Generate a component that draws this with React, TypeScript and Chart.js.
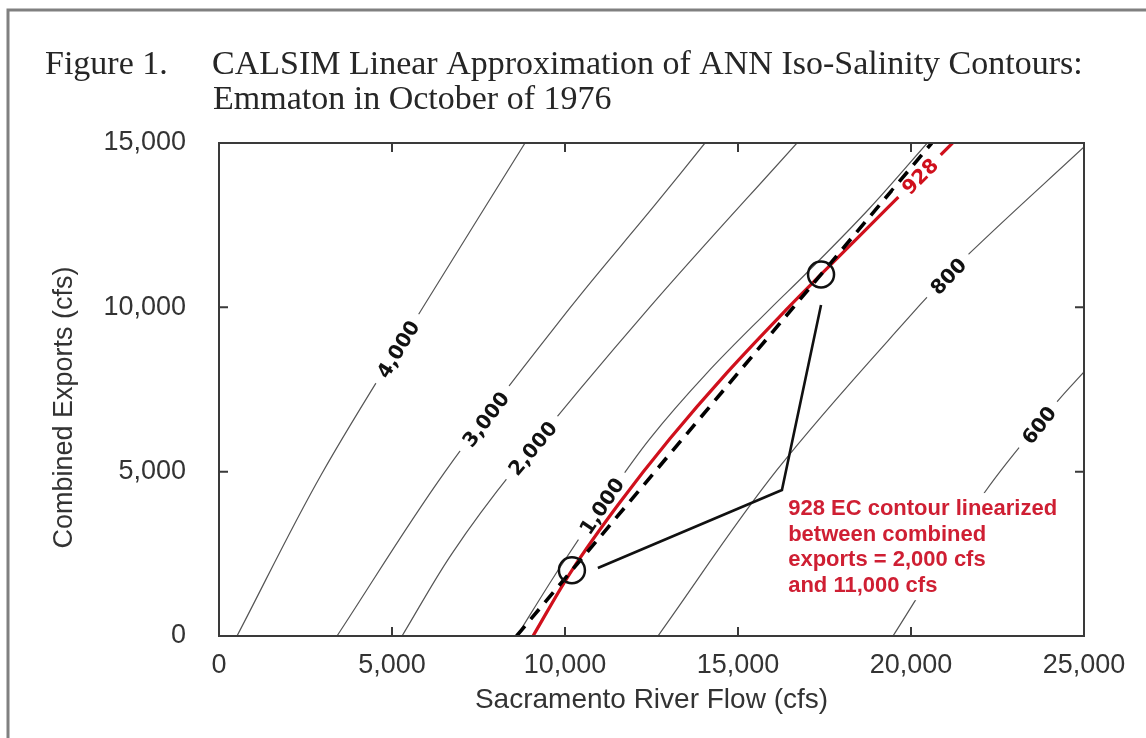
import React, { useEffect, useRef } from 'react';
import { Chart, registerables } from 'chart.js';

Chart.register(...registerables);

const SANS = '"Liberation Sans", Arial, Helvetica, sans-serif';
const LABEL_SANS = '"DejaVu Sans", Verdana, sans-serif';
const SERIF = '"Liberation Serif", "Times New Roman", serif';

// Axis ticks
const X_TICKS = [0, 5000, 10000, 15000, 20000, 25000];
const Y_TICKS = [0, 5000, 10000, 15000];

// Iso-salinity contours (EC): x = Sacramento River Flow (cfs), y = Combined Exports (cfs)
const C4000_X = [520, 2950, 5900, 8845];
const C4000_Y = [0, 4900, 10010, 15000];
const C3000_X = [3410, 6500, 10150, 12600, 14045];
const C3000_Y = [0, 4950, 9990, 13115, 15000];
const C2000_X = [5290, 6728, 8520, 12456, 16704];
const C2000_Y = [0, 2500, 5051, 10011, 15000];
const C1000_X = [8610, 9800, 11080, 12450, 14100, 15970, 16940, 18790, 20470];
const C1000_Y = [0, 2000, 4000, 6000, 8000, 10000, 11000, 13000, 15000];
const C928_X = [9075, 10200, 11540, 13030, 14670, 16460, 17400, 19300, 21200];
const C928_Y = [0, 2000, 4000, 6000, 8000, 10000, 11000, 13000, 15000];
const C800_X = [12687, 16126, 20259, 21704, 25000];
const C800_Y = [0, 5051, 10072, 11655, 14880];
const C600_X = [19479, 22137, 24218, 25000];
const C600_Y = [0, 4382, 7121, 8034];

// Linearized 928 EC contour (dashed) and its anchor points
const LINEAR_X = [8600, 20600];
const LINEAR_Y = [0, 15000];
const ANCHOR_X = [10200, 17400];
const ANCHOR_Y = [2000, 11000];

// Callout leader line
const LEADER_X = [10950, 16270, 17400];
const LEADER_Y = [2070, 4440, 10070];

// Contour labels and the export level (y) where each sits on its contour
const CONTOUR_LABELS = ['4,000', '3,000', '2,000', '1,000', '928', '800', '600'];
const LABEL_AT_Y = [8733, 6603, 5721, 3956, 13998, 10955, 6421];

const NOTE_LINES = [
  '928 EC contour linearized',
  'between combined',
  'exports = 2,000 cfs',
  'and 11,000 cfs',
];
const NOTE_AT = { x: 16450, y: 3680 };

const TITLE_FIG = 'Figure 1.';
const TITLE_L1 = 'CALSIM Linear Approximation of ANN Iso-Salinity Contours:';
const TITLE_L2 = 'Emmaton in October of 1976';
const X_TITLE = 'Sacramento River Flow (cfs)';
const Y_TITLE = 'Combined Exports (cfs)';

const RED = '#d0101c';
const NOTE_RED = '#cf1f33';
const GRAY = '#555555';
const TEXT = '#333333';

const fmt = (v: number) => Number(v).toLocaleString('en-US');
const xy = (xs: number[], ys: number[]) => xs.map((x, i) => ({ x, y: ys[i] }));

export default function App() {
  const ref = useRef<HTMLCanvasElement>(null);

  useEffect(() => {
    const canvas = ref.current;
    if (!canvas) return;

    const contours = [
      { xs: C4000_X, ys: C4000_Y, label: CONTOUR_LABELS[0], at: LABEL_AT_Y[0], red: false },
      { xs: C3000_X, ys: C3000_Y, label: CONTOUR_LABELS[1], at: LABEL_AT_Y[1], red: false },
      { xs: C2000_X, ys: C2000_Y, label: CONTOUR_LABELS[2], at: LABEL_AT_Y[2], red: false },
      { xs: C1000_X, ys: C1000_Y, label: CONTOUR_LABELS[3], at: LABEL_AT_Y[3], red: false },
      { xs: C928_X, ys: C928_Y, label: CONTOUR_LABELS[4], at: LABEL_AT_Y[4], red: true },
      { xs: C800_X, ys: C800_Y, label: CONTOUR_LABELS[5], at: LABEL_AT_Y[5], red: false },
      { xs: C600_X, ys: C600_Y, label: CONTOUR_LABELS[6], at: LABEL_AT_Y[6], red: false },
    ];

    const grayContours = contours
      .filter((c) => !c.red)
      .map((c) => ({
        data: xy(c.xs, c.ys),
        showLine: true,
        borderColor: GRAY,
        borderWidth: 1.2,
        pointRadius: 0,
        tension: 0.35,
      }));

    const overlay = {
      id: 'overlay',
      afterDatasetsDraw(chart: any) {
        const { ctx, chartArea: a, scales } = chart;
        const sx = scales.x;
        const sy = scales.y;
        ctx.save();

        // plot frame
        ctx.strokeStyle = '#3a3a3a';
        ctx.lineWidth = 2;
        ctx.strokeRect(a.left, a.top, a.right - a.left, a.bottom - a.top);

        // inward tick marks on all four sides
        const TL = 9;
        X_TICKS.forEach((v) => {
          const p = sx.getPixelForValue(v);
          if (p <= a.left + 1 || p >= a.right - 1) return;
          ctx.beginPath();
          ctx.moveTo(p, a.bottom);
          ctx.lineTo(p, a.bottom - TL);
          ctx.moveTo(p, a.top);
          ctx.lineTo(p, a.top + TL);
          ctx.stroke();
        });
        Y_TICKS.forEach((v) => {
          const p = sy.getPixelForValue(v);
          if (p <= a.top + 1 || p >= a.bottom - 1) return;
          ctx.beginPath();
          ctx.moveTo(a.left, p);
          ctx.lineTo(a.left + TL, p);
          ctx.moveTo(a.right, p);
          ctx.lineTo(a.right - TL, p);
          ctx.stroke();
        });

        // contour labels (inline, with a white gap in the line)
        ctx.font = 'bold 20px ' + LABEL_SANS;
        contours.forEach((c) => {
          const ly = c.at;
          let k = 0;
          for (k = 0; k < c.ys.length - 2; k++) if (ly <= c.ys[k + 1]) break;
          const t = (ly - c.ys[k]) / (c.ys[k + 1] - c.ys[k]);
          const lx = c.xs[k] + t * (c.xs[k + 1] - c.xs[k]);
          const cx = sx.getPixelForValue(lx);
          const cy = sy.getPixelForValue(ly);
          const ang = Math.atan2(
            sy.getPixelForValue(c.ys[k + 1]) - sy.getPixelForValue(c.ys[k]),
            sx.getPixelForValue(c.xs[k + 1]) - sx.getPixelForValue(c.xs[k])
          );
          const w = ctx.measureText(c.label).width;
          ctx.save();
          ctx.translate(cx, cy);
          ctx.rotate(ang);
          ctx.fillStyle = '#ffffff';
          ctx.fillRect(-w / 2 - 9, -8, w + 18, 16);
          ctx.fillStyle = c.red ? RED : '#111111';
          ctx.textAlign = 'center';
          ctx.textBaseline = 'alphabetic';
          ctx.fillText(c.label, 0, 7.3);
          ctx.restore();
        });

        // callout note
        ctx.font = 'bold 22px ' + SANS;
        const nx = sx.getPixelForValue(NOTE_AT.x);
        const ny = sy.getPixelForValue(NOTE_AT.y);
        const LH = 25.7;
        const maxW = Math.max(...NOTE_LINES.map((l) => ctx.measureText(l).width));
        ctx.fillStyle = '#ffffff';
        ctx.fillRect(nx - 3, ny - 22, maxW + 6, LH * (NOTE_LINES.length - 1) + 30);
        ctx.fillStyle = NOTE_RED;
        ctx.textAlign = 'left';
        ctx.textBaseline = 'alphabetic';
        NOTE_LINES.forEach((l, i) => ctx.fillText(l, nx, ny + i * LH));

        ctx.restore();
      },
      afterDraw(chart: any) {
        const { ctx, chartArea: a } = chart;
        ctx.save();
        // outer figure border
        ctx.strokeStyle = '#808080';
        ctx.lineWidth = 3;
        ctx.beginPath();
        ctx.moveTo(8, 738);
        ctx.lineTo(8, 10);
        ctx.lineTo(1146, 10);
        ctx.stroke();
        // title
        ctx.fillStyle = '#262626';
        ctx.font = '34px ' + SERIF;
        ctx.textAlign = 'left';
        ctx.textBaseline = 'alphabetic';
        ctx.fillText(TITLE_FIG, 45, 74);
        ctx.fillText(TITLE_L1, 212, 74);
        ctx.fillText(TITLE_L2, 213, 109);
        // y axis title (rotated)
        ctx.font = '27px ' + SANS;
        ctx.fillStyle = TEXT;
        ctx.translate(65, (a.top + a.bottom) / 2 + 18);
        ctx.rotate(-Math.PI / 2);
        ctx.textAlign = 'center';
        ctx.textBaseline = 'middle';
        ctx.fillText(Y_TITLE, 0, 0);
        ctx.restore();
      },
    };

    const chart = new Chart(canvas, {
      type: 'scatter',
      data: {
        datasets: [
          {
            data: xy(ANCHOR_X, ANCHOR_Y),
            showLine: false,
            pointRadius: 13,
            pointBorderWidth: 2.5,
            pointBorderColor: '#111111',
            pointBackgroundColor: 'rgba(0,0,0,0)',
            pointStyle: 'circle',
          },
          {
            data: xy(LEADER_X, LEADER_Y),
            showLine: true,
            borderColor: '#111111',
            borderWidth: 2.6,
            pointRadius: 0,
          },
          {
            data: xy(LINEAR_X, LINEAR_Y),
            showLine: true,
            borderColor: '#000000',
            borderWidth: 3.6,
            borderDash: [13, 9],
            pointRadius: 0,
          },
          {
            data: xy(C928_X, C928_Y),
            showLine: true,
            borderColor: RED,
            borderWidth: 3.2,
            pointRadius: 0,
            tension: 0.35,
          },
          ...grayContours,
        ] as any,
      },
      options: {
        animation: false,
        responsive: false,
        devicePixelRatio: 1,
        events: [],
        layout: { padding: { top: 143, right: 62, left: 0, bottom: 0 } },
        plugins: {
          legend: { display: false },
          tooltip: { enabled: false },
          title: { display: false },
        },
        scales: {
          x: {
            type: 'linear',
            min: 0,
            max: 25000,
            afterBuildTicks: (s: any) => {
              s.ticks = X_TICKS.map((v) => ({ value: v }));
            },
            afterFit: (s: any) => {
              s.height = 102;
            },
            ticks: {
              callback: (v: any) => fmt(v),
              font: { family: SANS, size: 27 },
              color: TEXT,
              padding: 13,
              maxRotation: 0,
              autoSkip: false,
            },
            grid: { display: false, drawTicks: false },
            border: { display: false },
            title: {
              display: true,
              text: X_TITLE,
              font: { family: SANS, size: 28 },
              color: TEXT,
              padding: { top: 0, bottom: 21 },
            },
          },
          y: {
            type: 'linear',
            min: 0,
            max: 15000,
            afterBuildTicks: (s: any) => {
              s.ticks = Y_TICKS.map((v) => ({ value: v }));
            },
            afterFit: (s: any) => {
              s.width = 219;
            },
            ticks: {
              callback: (v: any) => fmt(v),
              font: { family: SANS, size: 27 },
              color: TEXT,
              padding: 33,
              autoSkip: false,
            },
            grid: { display: false, drawTicks: false },
            border: { display: false },
            title: { display: false },
          },
        },
      } as any,
      plugins: [overlay],
    });

    return () => chart.destroy();
  }, []);

  return (
    <div
      style={{
        position: 'absolute',
        left: 0,
        top: 0,
        width: 1146,
        height: 738,
        background: '#ffffff',
      }}
    >
      <canvas ref={ref} width={1146} height={738} style={{ display: 'block', width: 1146, height: 738 }} />
    </div>
  );
}
